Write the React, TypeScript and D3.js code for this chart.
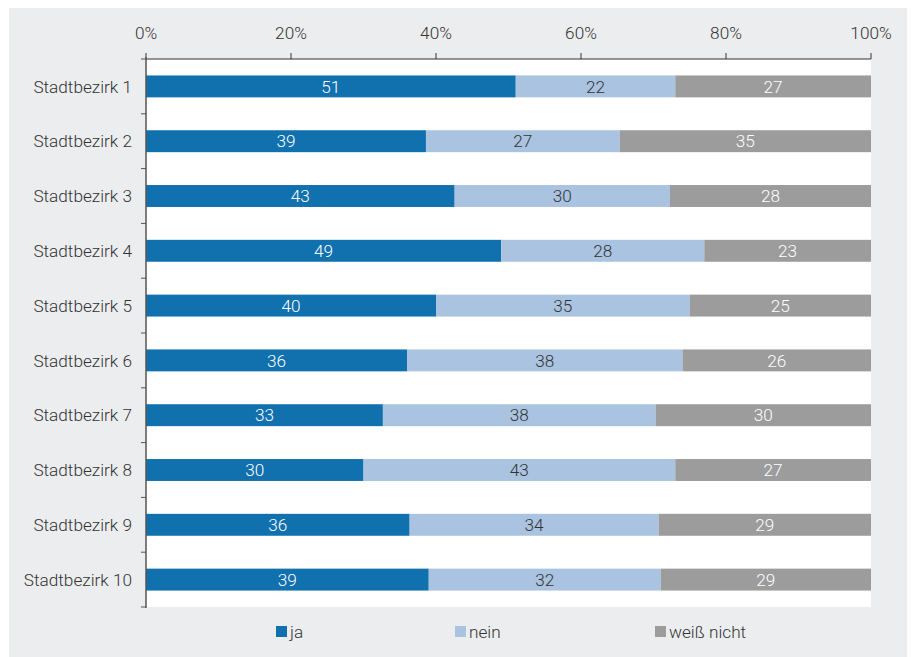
import * as d3 from "d3";
import { useEffect, useRef } from "react";

const districts = [
  "Stadtbezirk 1",
  "Stadtbezirk 2",
  "Stadtbezirk 3",
  "Stadtbezirk 4",
  "Stadtbezirk 5",
  "Stadtbezirk 6",
  "Stadtbezirk 7",
  "Stadtbezirk 8",
  "Stadtbezirk 9",
  "Stadtbezirk 10",
];
const ja = [51, 39, 43, 49, 40, 36, 33, 30, 36, 39];
const nein = [22, 27, 30, 28, 35, 38, 38, 43, 34, 32];
const weissNicht = [27, 35, 28, 23, 25, 26, 30, 27, 29, 29];
const seriesNames = ["ja", "nein", "weiß nicht"];
const xTicks = [0, 20, 40, 60, 80, 100];

const colors = ["#1170ae", "#a9c3e0", "#9c9c9d"];
const labelColors = ["#ffffff", "#333333", "#ffffff"];
const font = "Roboto, 'Liberation Sans', sans-serif";
const fontSize = 17.2;
const fontWeight = 300;

export default function App() {
  const ref = useRef<SVGSVGElement | null>(null);

  useEffect(() => {
    if (!ref.current) return;
    const root = d3.select(ref.current);
    root.selectAll("*").remove();

    // page coordinates, svg sits at the body margin
    const svg = root.append("g").attr("transform", "translate(-8,-8)");

    svg
      .append("rect")
      .attr("x", 9)
      .attr("y", 8)
      .attr("width", 906)
      .attr("height", 649)
      .attr("fill", "#ecedef");

    const left = 146;
    const right = 871;
    const top = 59;
    const bottom = 607;

    svg
      .append("rect")
      .attr("x", left)
      .attr("y", top)
      .attr("width", right - left)
      .attr("height", bottom - top)
      .attr("fill", "#ffffff");

    const x = d3.scaleLinear().domain([0, 100]).range([left, right]);
    const y = d3
      .scaleBand<string>()
      .domain(districts)
      .range([top, bottom])
      .paddingInner(0.6)
      .paddingOuter(0.3);

    const rows = districts.map((name, i) => {
      const vals = [ja[i], nein[i], weissNicht[i]];
      const total = d3.sum(vals);
      let acc = 0;
      const segs = vals.map((v, k) => {
        const x0 = (acc / total) * 100;
        acc += v;
        const x1 = (acc / total) * 100;
        return { v, k, x0, x1 };
      });
      return { name, segs };
    });

    const text = (sel: any) =>
      sel
        .attr("font-family", font)
        .attr("font-size", fontSize)
        .attr("font-weight", fontWeight);

    const g = svg
      .selectAll("g.row")
      .data(rows)
      .enter()
      .append("g")
      .attr("class", "row");

    g.selectAll("rect")
      .data((d) => d.segs.map((s) => ({ ...s, name: d.name })))
      .enter()
      .append("rect")
      .attr("x", (d) => x(d.x0))
      .attr("width", (d) => x(d.x1) - x(d.x0))
      .attr("y", (d) => y(d.name)!)
      .attr("height", y.bandwidth())
      .attr("fill", (d) => colors[d.k]);

    g.selectAll("text")
      .data((d) => d.segs.map((s) => ({ ...s, name: d.name })))
      .enter()
      .append("text")
      .attr("x", (d) => (x(d.x0) + x(d.x1)) / 2)
      .attr("y", (d) => y(d.name)! + y.bandwidth() / 2)
      .attr("dy", "0.36em")
      .attr("text-anchor", "middle")
      .call(text)
      .attr("fill", (d) => labelColors[d.k])
      .text((d) => d.v);

    // top axis
    const ax = svg.append("g");
    ax.append("line")
      .attr("x1", left)
      .attr("x2", right)
      .attr("y1", top)
      .attr("y2", top)
      .attr("stroke", "#333")
      .attr("stroke-width", 1.2);
    ax.selectAll("line.tick")
      .data(xTicks)
      .enter()
      .append("line")
      .attr("class", "tick")
      .attr("x1", (d) => x(d))
      .attr("x2", (d) => x(d))
      .attr("y1", top - 6)
      .attr("y2", top)
      .attr("stroke", "#333");
    ax.selectAll("text")
      .data(xTicks)
      .enter()
      .append("text")
      .attr("x", (d) => x(d))
      .attr("y", 39)
      .attr("text-anchor", "middle")
      .call(text)
      .attr("fill", "#333")
      .text((d) => `${d}%`);

    // left axis, ticks on band boundaries
    const ay = svg.append("g");
    ay.append("line")
      .attr("x1", left)
      .attr("x2", left)
      .attr("y1", top - 2)
      .attr("y2", bottom + 1)
      .attr("stroke", "#555")
      .attr("stroke-width", 1.5);
    const bounds = d3.range(districts.length + 1).map((i) => top + i * ((bottom - top) / districts.length));
    ay.selectAll("line.tick")
      .data(bounds)
      .enter()
      .append("line")
      .attr("class", "tick")
      .attr("x1", left - 5)
      .attr("x2", left)
      .attr("y1", (d) => d)
      .attr("y2", (d) => d)
      .attr("stroke", "#555");
    ay.selectAll("text")
      .data(districts)
      .enter()
      .append("text")
      .attr("x", 132)
      .attr("y", (d) => y(d)! + y.bandwidth() / 2)
      .attr("dy", "0.36em")
      .attr("text-anchor", "end")
      .call(text)
      .attr("fill", "#333")
      .text((d) => d);

    // legend
    const legendX = [276, 455, 655];
    const lg = svg
      .selectAll("g.legend")
      .data(seriesNames)
      .enter()
      .append("g")
      .attr("class", "legend")
      .attr("transform", (_d, i) => `translate(${legendX[i]},626)`);
    lg.append("rect")
      .attr("width", 11)
      .attr("height", 11)
      .attr("fill", (_d, i) => colors[i]);
    lg.append("text")
      .attr("x", 14)
      .attr("y", 5.5)
      .attr("dy", "0.36em")
      .call(text)
      .attr("fill", "#333")
      .text((d) => d);
  }, []);

  return <svg ref={ref} width={907} height={649} style={{ display: "block" }} />;
}
